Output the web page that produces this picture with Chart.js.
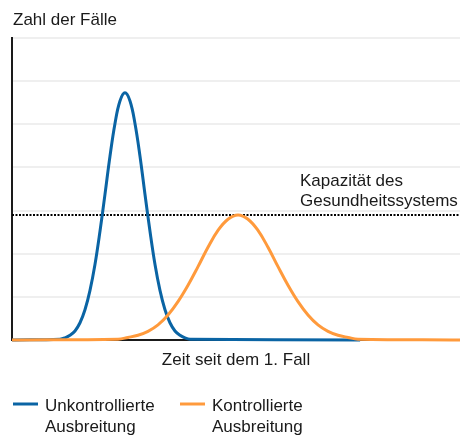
<!DOCTYPE html>
<html>
<head>
<meta charset="utf-8">
<script src="https://cdn.jsdelivr.net/npm/chart.js@4/dist/chart.umd.min.js"></script>
<style>
  html, body { margin: 0; padding: 0; background: #fff; }
  #wrap { width: 460px; height: 438px; position: relative; }
</style>
</head>
<body>
<div id="wrap"><canvas id="chart"></canvas></div>
<script>
// Werte (Zeit 0..100, Fälle 0..7)
const yTicks = [0, 1, 2, 3, 4, 5, 6, 7];

const blueX = [0, 10.71, 11.83, 12.94, 14.06, 15.18, 16.29, 17.41, 18.52, 19.64, 20.76, 21.87, 22.99, 24.10,
  25.22, 26.34, 27.45, 28.57, 29.68, 30.80, 31.92, 33.03, 34.15, 35.26, 36.38, 37.50, 38.61, 39.73, 77.7];
const blueY = [0, 0.02, 0.05, 0.11, 0.21, 0.40, 0.70, 1.15, 1.75, 2.52, 3.38, 4.26, 5.02, 5.54,
  5.73, 5.54, 5.02, 4.26, 3.38, 2.52, 1.75, 1.15, 0.70, 0.40, 0.21, 0.11, 0.05, 0.02, 0];

const orangeX = [0, 23.66, 25.89, 28.13, 30.36, 32.59, 34.82, 37.05, 39.29, 41.52, 43.75, 45.98, 48.21,
  50.45, 52.68, 54.91, 57.14, 59.38, 61.61, 63.84, 66.07, 68.30, 70.54, 72.77, 75.00, 77.23, 100];
const orangeY = [0, 0.02, 0.06, 0.11, 0.20, 0.35, 0.58, 0.89, 1.27, 1.70, 2.15, 2.54, 2.80,
  2.90, 2.80, 2.54, 2.15, 1.70, 1.27, 0.89, 0.58, 0.35, 0.20, 0.11, 0.06, 0.02, 0];

const capacityX = [0, 100];
const capacityY = [2.9, 2.9];

const seriesLabels = ["Unkontrollierte Ausbreitung", "Kontrollierte Ausbreitung"];
const blueColor = "#0a64a4";
const orangeColor = "#ff9a3c";
const font = "Liberation Sans, Arial, sans-serif";

function toPoints(xs, ys) {
  return xs.map((x, i) => ({ x: x, y: ys[i] }));
}

// Texte zeichnen: Achsentitel, Kapazität, Legende
const textPlugin = {
  id: "texts",
  afterDraw(chart) {
    const ctx = chart.ctx;
    const area = chart.chartArea;
    ctx.save();
    ctx.fillStyle = "#1a1a1a";
    ctx.font = "17px " + font;
    ctx.textBaseline = "alphabetic";

    ctx.textAlign = "left";
    ctx.fillText("Zahl der Fälle", 13, 25);

    ctx.textAlign = "center";
    ctx.fillText("Zeit seit dem 1. Fall", (area.left + area.right) / 2, 365);

    ctx.textAlign = "left";
    ctx.fillText("Kapazität des", 300, 186);
    ctx.fillText("Gesundheitssystems", 300, 206);

    // Legende
    const items = [
      { color: blueColor, x: 13, lines: ["Unkontrollierte", "Ausbreitung"] },
      { color: orangeColor, x: 180, lines: ["Kontrollierte", "Ausbreitung"] },
    ];
    items.forEach((item) => {
      ctx.strokeStyle = item.color;
      ctx.lineWidth = 3;
      ctx.beginPath();
      ctx.moveTo(item.x, 404);
      ctx.lineTo(item.x + 25, 404);
      ctx.stroke();
      ctx.fillText(item.lines[0], item.x + 32, 411);
      ctx.fillText(item.lines[1], item.x + 32, 432);
    });
    ctx.restore();
  },
};

const ctx = document.getElementById("chart").getContext("2d");
new Chart(ctx, {
  type: "line",
  data: {
    datasets: [
      {
        label: seriesLabels[1],
        data: toPoints(orangeX, orangeY),
        borderColor: orangeColor,
        borderWidth: 3,
        pointRadius: 0,
        tension: 0.4,
        clip: 4,
        order: 0,
      },
      {
        label: seriesLabels[0],
        data: toPoints(blueX, blueY),
        borderColor: blueColor,
        borderWidth: 3,
        pointRadius: 0,
        tension: 0.4,
        clip: 4,
        order: 1,
      },
      {
        label: "Kapazität des Gesundheitssystems",
        data: toPoints(capacityX, capacityY),
        borderColor: "#000",
        borderWidth: 2,
        borderDash: [2, 1.5],
        pointRadius: 0,
        order: 2,
      },
    ],
  },
  options: {
    responsive: true,
    maintainAspectRatio: false,
    animation: false,
    layout: {
      padding: { left: 12, top: 38, right: 0, bottom: 98 },
    },
    plugins: {
      legend: { display: false },
      title: { display: false },
      tooltip: { enabled: false },
    },
    scales: {
      x: {
        type: "linear",
        min: 0,
        max: 100,
        grid: { display: false, drawTicks: false },
        ticks: { display: false },
        border: { display: true, color: "#1a1a1a", width: 2 },
      },
      y: {
        min: 0,
        max: 7,
        afterBuildTicks: (axis) => {
          axis.ticks = yTicks.map((v) => ({ value: v }));
        },
        grid: { color: "#efefef", lineWidth: 2, drawTicks: false },
        ticks: { display: false },
        border: { display: true, color: "#1a1a1a", width: 2 },
      },
    },
  },
  plugins: [textPlugin],
});
</script>
</body>
</html>
